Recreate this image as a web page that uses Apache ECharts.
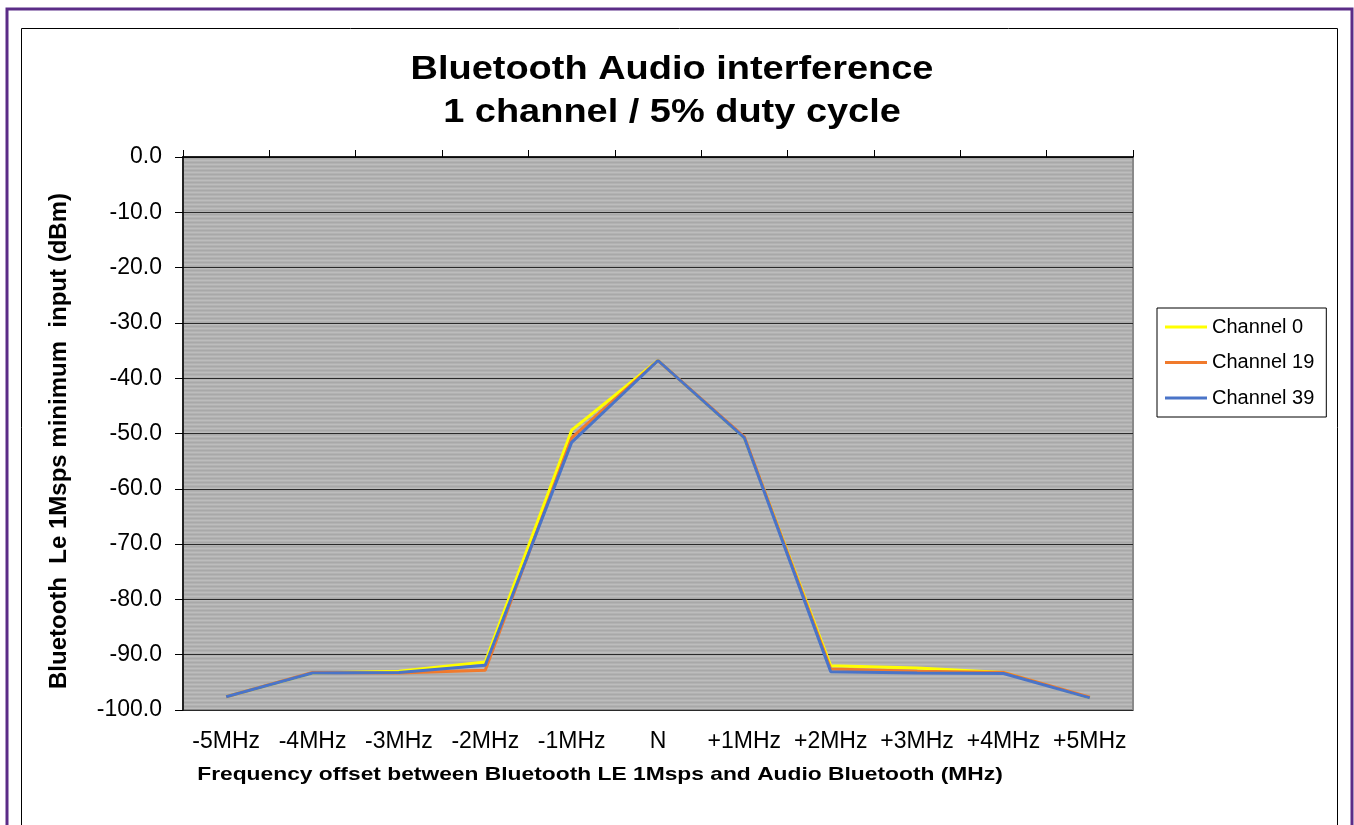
<!DOCTYPE html>
<html><head><meta charset="utf-8">
<script src="https://cdn.jsdelivr.net/npm/echarts@6/dist/echarts.min.js"></script>
<style>html,body{margin:0;padding:0;background:#fff;}#c{width:1354px;height:825px;}</style>
</head><body><div id="c"></div>
<script>
const categories = ['-5MHz','-4MHz','-3MHz','-2MHz','-1MHz','N','+1MHz','+2MHz','+3MHz','+4MHz','+5MHz'];
const channel0  = [-97.6,-93.3,-93.0,-91.3,-49.4,-36.8,-50.8,-92.0,-92.4,-93.2,-97.8];
const channel19 = [-97.6,-93.2,-93.3,-92.8,-50.8,-36.8,-50.6,-92.6,-93.0,-93.2,-97.7];
const channel39 = [-97.6,-93.3,-93.2,-91.9,-51.6,-36.8,-50.8,-93.1,-93.3,-93.4,-97.8];
const yTicks = [0,-10,-20,-30,-40,-50,-60,-70,-80,-90,-100];

const FONT = '"Liberation Sans", Arial, sans-serif';
const cv = document.createElement('canvas');
cv.width = 4; cv.height = 4;
const cx = cv.getContext('2d');
['#bdbdbd','#b2b2b2','#a8a8a8','#b2b2b2'].forEach((c,i)=>{cx.fillStyle=c;cx.fillRect(0,i,4,1);});

const chart = echarts.init(document.getElementById('c'), null, {renderer:'canvas'});
chart.setOption({
  animation:false,
  backgroundColor:'#fff',
  textStyle:{fontFamily:FONT},
  grid:{left:183, top:157, right:221, bottom:115, show:true,
        backgroundColor:{image:cv, repeat:'repeat'}, borderColor:'#8a8a8a', borderWidth:2},
  legend:{orient:'vertical', left:1157, top:308,
    data:['Channel 0','Channel 19','Channel 39'],
    backgroundColor:'#fff', borderColor:'#000', borderWidth:1,
    padding:[9,12,9,8], itemGap:15.5, itemWidth:42, itemHeight:3, icon:'rect',
    textStyle:{fontSize:20, color:'#000', fontFamily:FONT}},
  xAxis:[
    {type:'category', data:categories, position:'top', boundaryGap:true,
     axisLine:{show:true, onZero:false, lineStyle:{color:'#000', width:1.5}},
     axisTick:{show:true, length:7, inside:false, lineStyle:{color:'#000'}},
     axisLabel:{show:false}, splitLine:{show:false}},
    {type:'category', data:categories, position:'bottom', boundaryGap:true,
     axisLine:{show:false, onZero:false}, axisTick:{show:false},
     axisLabel:{show:true, fontSize:23, color:'#000', margin:20, fontFamily:FONT, interval:0},
     splitLine:{show:false}}
  ],
  yAxis:{type:'value', min:-100, max:0, interval:10,
    axisLine:{show:true, lineStyle:{color:'#000', width:1.5}},
    axisTick:{show:true, length:8, lineStyle:{color:'#000'}},
    axisLabel:{fontSize:23, color:'#000', margin:21, fontFamily:FONT, formatter:v=>v.toFixed(1)},
    splitLine:{show:true, lineStyle:{color:'#2a2a2a', width:1}}},
  series:[
    {name:'Channel 0', type:'line', data:channel0, symbol:'none', color:'#ffff00', lineStyle:{width:3, color:'#ffff00'}},
    {name:'Channel 19', type:'line', data:channel19, symbol:'none', color:'#f07a2c', lineStyle:{width:3, color:'#f07a2c'}},
    {name:'Channel 39', type:'line', data:channel39, symbol:'none', color:'#4a74c8', lineStyle:{width:3, color:'#4a74c8'}}
  ],
  graphic:[
    {type:'rect', shape:{x:7, y:9, width:1345, height:830}, style:{fill:'none', stroke:'#5b2c87', lineWidth:3}, z:-1},
    {type:'rect', shape:{x:21.5, y:28.5, width:1316, height:820}, style:{fill:'none', stroke:'#000', lineWidth:1}, z:-1},
    {type:'text', x:672, y:70, scaleX:1.15, style:{text:'Bluetooth Audio interference', font:'bold 33px "Liberation Sans", Arial, sans-serif', fill:'#000', textAlign:'center', textVerticalAlign:'middle'}},
    {type:'text', x:672, y:113, scaleX:1.15, style:{text:'1 channel / 5% duty cycle', font:'bold 33px "Liberation Sans", Arial, sans-serif', fill:'#000', textAlign:'center', textVerticalAlign:'middle'}},
    {type:'text', x:59, y:441, rotation:Math.PI/2, style:{text:'Bluetooth  Le 1Msps minimum  input (dBm)', font:'bold 24px "Liberation Sans", Arial, sans-serif', fill:'#000', textAlign:'center', textVerticalAlign:'middle'}},
    {type:'text', x:600, y:775, scaleX:1.2, style:{text:'Frequency offset between Bluetooth LE 1Msps and Audio Bluetooth (MHz)', font:'bold 19px "Liberation Sans", Arial, sans-serif', fill:'#000', textAlign:'center', textVerticalAlign:'middle'}}
  ]
});
</script></body></html>
